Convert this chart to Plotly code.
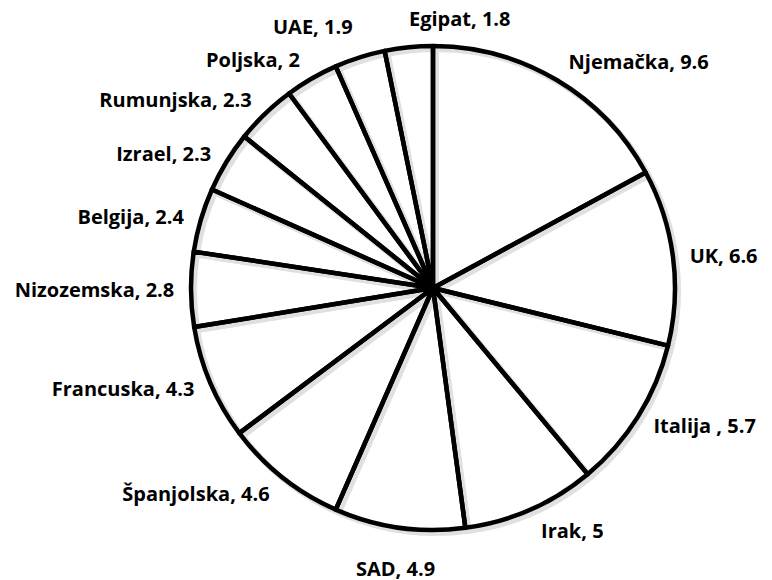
import math
import plotly.graph_objects as go

labels = ["Njemačka", "UK", "Italija ", "Irak", "SAD", "Španjolska", "Francuska",
          "Nizozemska", "Belgija", "Izrael", "Rumunjska", "Poljska", "UAE", "Egipat"]
values = [9.6, 6.6, 5.7, 5, 4.9, 4.6, 4.3, 2.8, 2.4, 2.3, 2.3, 2, 1.9, 1.8]

W, H = 772, 580
L, R, T, B = 165, 87, 20, 40          # plot area 520 x 520
side = W - L - R
rpie = 242 / side                     # main pie radius as a fraction of the plot area
rcar = 252 / side                     # invisible label-carrier radius
off = 3 / side                        # shadow offset
FONT = dict(family="Open Sans", size=20, color="black", weight="bold")

n = len(values)
texts = [f"{lab}, {val:g}" for lab, val in zip(labels, values)]

# labels near the vertical axis are drawn as annotations: (xanchor, yanchor, radius px)
own = {"Egipat": ("left", "bottom", 255), "UAE": ("right", "bottom", 258),
       "SAD": ("center", "top", 268)}
carrier_text = ["" if lab in own else t for lab, t in zip(labels, texts)]

fig = go.Figure()
# soft shadow pie
fig.add_trace(go.Pie(
    labels=labels, values=values, sort=False, direction="clockwise", rotation=0,
    marker=dict(colors=["white"] * n, line=dict(color="#e0e0e0", width=6)),
    textinfo="none", hoverinfo="skip", showlegend=False,
    domain=dict(x=[0.5 - rpie + off, 0.5 + rpie + off], y=[0.5 - rpie - off, 0.5 + rpie - off]),
))
# main pie (outlines)
fig.add_trace(go.Pie(
    labels=labels, values=values, sort=False, direction="clockwise", rotation=0,
    marker=dict(colors=["rgba(0,0,0,0)"] * n, line=dict(color="black", width=4.5)),
    textinfo="none", showlegend=False,
    domain=dict(x=[0.5 - rpie, 0.5 + rpie], y=[0.5 - rpie, 0.5 + rpie]),
))
# label carrier (slightly larger, invisible) so labels sit a little away from the rim
fig.add_trace(go.Pie(
    labels=labels, values=values, sort=False, direction="clockwise", rotation=0,
    marker=dict(colors=["rgba(0,0,0,0)"] * n, line=dict(color="rgba(0,0,0,0)", width=0)),
    text=carrier_text, textinfo="text", textposition="outside",
    textfont=FONT, hoverinfo="skip", showlegend=False,
    domain=dict(x=[0.5 - rcar, 0.5 + rcar], y=[0.5 - rcar, 0.5 + rcar]),
))

total = sum(values)
cum = 0.0
for lab, val, t in zip(labels, values, texts):
    mid = (cum + val / 2) / total * 2 * math.pi
    cum += val
    if lab in own:
        xa, ya, rad = own[lab]
        rl = rad / side
        fig.add_annotation(
            x=0.5 + rl * math.sin(mid), y=0.5 + rl * math.cos(mid),
            xref="paper", yref="paper", text=t, showarrow=False,
            xanchor=xa, yanchor=ya, font=FONT,
        )

fig.update_layout(
    width=W, height=H, margin=dict(l=L, r=R, t=T, b=B, autoexpand=False),
    paper_bgcolor="white", plot_bgcolor="white", showlegend=False,
)
fig.write_html("out.html")
